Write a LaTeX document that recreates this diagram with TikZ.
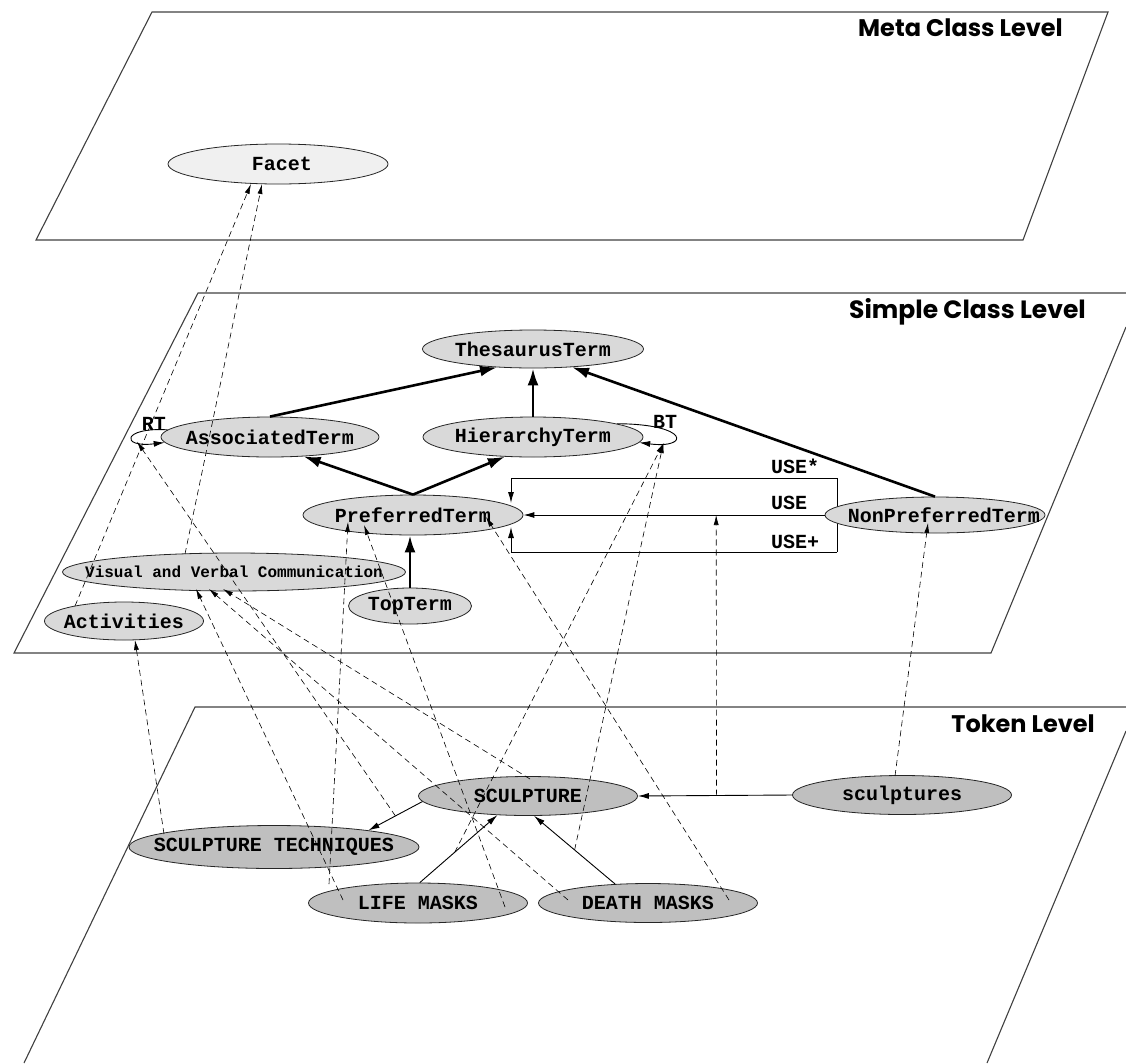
\documentclass[tikz,border=0pt]{standalone}
\usepackage{fontspec}
\newfontfamily\monob{Liberation Mono}
\newfontfamily\lvlfont{Poppins}
\usetikzlibrary{shapes.geometric,arrows.meta,calc}
\pgfdeclarelayer{bg}
\pgfsetlayers{bg,main}
\begin{document}
\begin{tikzpicture}[x=1pt,y=-1pt,
  every label/.style={font=\monob\bfseries\fontsize{20}{20}\selectfont, inner sep=0pt},
  ell/.style={ellipse, draw=black!85, line width=0.8pt, inner sep=0pt},
  cls/.style={ell, fill=black!15},
  metacls/.style={ell, fill=black!6},
  tok/.style={ell, fill=black!25},
  thickarr/.style={line width=2.6pt, -{Latex[length=17pt,width=11pt]}},
  thinarr/.style={line width=0.9pt, -{Latex[length=11pt,width=6pt]}},
  inst/.style={line width=0.6pt, dash pattern=on 6pt off 4pt, -{Latex[length=10pt,width=5pt]}},
  plane/.style={line width=1.1pt, draw=black!75},
  lvl/.style={font=\lvlfont\bfseries\fontsize{24}{24}\selectfont, anchor=east, inner sep=0pt},
  rel/.style={font=\monob\bfseries\fontsize{20}{20}\selectfont, inner sep=0pt}
]
\useasboundingbox (0,0) rectangle (1126,1063);

% USE box corners
\coordinate (boxTR) at (837,478);
\coordinate (boxBR) at (837,552);
\coordinate (boxTL) at (511,478);
\coordinate (boxBL) at (511,552);

% ---------- nodes ----------
\node[metacls, minimum width=220pt, minimum height=40pt, label={[xshift=4pt]center:Facet}] (facet) at (278,164) {};

\node[cls, minimum width=221pt, minimum height=38pt, label=center:ThesaurusTerm] (tt) at (533,349) {};
\node[cls, minimum width=218pt, minimum height=40pt, label=center:AssociatedTerm] (at) at (270,437) {};
\node[cls, minimum width=220pt, minimum height=40pt, label=center:HierarchyTerm] (ht) at (533,437) {};
\node[cls, minimum width=220pt, minimum height=40pt, label=center:PreferredTerm] (pt) at (413,515) {};
\node[cls, minimum width=220pt, minimum height=36pt, label={[xshift=9pt]center:NonPreferredTerm}] (npt) at (935,515) {};
\node[cls, minimum width=343pt, minimum height=38pt, label={[font=\monob\bfseries\fontsize{16}{16}\selectfont]center:Visual and Verbal Communication}] (vvc) at (234,572) {};
\node[cls, minimum width=159pt, minimum height=38pt, label=center:Activities] (act) at (124,621) {};
\node[cls, minimum width=123pt, minimum height=36pt, label=center:TopTerm] (top) at (410,606) {};

\node[tok, minimum width=219pt, minimum height=39pt, label=center:SCULPTURE] (sculpture) at (528,796) {};
\node[tok, minimum width=290pt, minimum height=43pt, label=center:SCULPTURE TECHNIQUES] (tech) at (274,847) {};
\node[tok, minimum width=219pt, minimum height=40pt, label=center:LIFE MASKS] (life) at (418,903) {};
\node[tok, minimum width=219pt, minimum height=39pt, label=center:DEATH MASKS] (death) at (648,903) {};
\node[tok, minimum width=219pt, minimum height=39pt, label=center:sculptures] (sculptures) at (902,795) {};

% level titles
\node[lvl] (lmeta) at (1063,28) {Meta Class Level};
\node[lvl, font=\lvlfont\bfseries\fontsize{25}{25}\selectfont] (lsimple) at (1086,312) {Simple Class Level};
\node[lvl] (ltoken) at (1095,724) {Token Level};

% ---------- background: planes and box edge ----------
\begin{pgfonlayer}{bg}
  \draw[plane] (152,12) -- (1108,12) -- (1023,240) -- (36,240) -- cycle;
  \draw[plane] (1126,293) -- (198,293) -- (14,653) -- (991,653) -- (1126,327);
  \draw[plane] (1126,707) -- (195,707) -- (24,1063);
  \draw[plane] (1126,731) -- (987,1063);
  \draw[line width=0.9pt] (boxTR) -- (boxBR);
\end{pgfonlayer}

% ---------- class hierarchy (thick) ----------
\draw[thickarr] (at.north) -- (tt.207);
\draw[thickarr] (ht.north) -- (tt.south);
\draw[thickarr] (npt.north) -- (tt.335);
\draw[thickarr] (pt.north) -- (at.330);
\draw[thickarr] (pt.north) -- (ht.215);
\draw[thickarr] (top.north) -- (top.north |- pt.south);

% ---------- RT and BT self loops ----------
\draw[thinarr] (at.176) .. controls (122,427) and (120,448) .. (at.183) coordinate[pos=0.7] (rtpt);
\node[rel] (rtlab) at (154,424) {RT};
\draw[thinarr] (ht.9) .. controls (690,424) and (690,449) .. (ht.357) coordinate[pos=0.8] (btpt);
\node[rel] (btlab) at (665,422) {BT};

% ---------- USE relations ----------
\draw[thinarr] (boxTR) -- (boxTL) -- ($(pt)+(98,-12)$);
\draw[thinarr] (npt.west) -- (pt.east) coordinate[pos=0.36] (usept);
\draw[thinarr] (boxBR) -- (boxBL) -- ($(pt)+(98,12)$);
\node[rel] (usestar) at (795,466) {USE*};
\node[rel] (useplain) at (789,503) {USE};
\node[rel] (useplus) at (795,542) {USE+};

% ---------- token level links ----------
\draw[thinarr] (sculpture.183) -- (tech.10) coordinate[pos=0.5] (rtlink);
\draw[thinarr] (life.85) -- (sculpture.212) coordinate[pos=0.45] (lifelink);
\draw[thinarr] (death.150) -- (sculpture.287) coordinate[pos=0.5] (deathlink);
\draw[thinarr] (sculptures.west) -- (sculpture.east) coordinate[pos=0.49] (uselink);

% ---------- instance-of (dashed) ----------
\draw[inst] ($(act)+(-49,-15)$) -- ($(facet)+(-27,20)$);
\draw[inst] ($(vvc)+(-49,-18)$) -- ($(facet)+(-16,20)$);
\draw[inst] ($(tech)+(-110,-13)$) -- ($(act)+(11,19)$);
\draw[inst] ($(life)+(-75,-3)$) -- ($(vvc)+(-38,17)$);
\draw[inst] ($(death)+(-80,-3)$) -- ($(vvc)+(-25,17)$);
\draw[inst] ($(sculpture)+(2,-17)$) -- ($(vvc)+(-11,17)$);
\draw[inst] ($(life)+(-89,-19)$) -- ($(pt)+(-65,7)$);
\draw[inst] ($(life)+(87,4)$) -- ($(pt)+(-49,10)$);
\draw[inst] ($(death)+(81,-3)$) -- ($(pt)+(73,2)$);
\draw[inst] (rtlink) -- (rtpt);
\draw[inst] (lifelink) -- (btpt);
\draw[inst] (deathlink) -- (btpt);
\draw[inst] (uselink) -- (usept);
\draw[inst] ($(sculptures)+(-7,-19)$) -- ($(npt)+(-7,8)$);
\end{tikzpicture}
\end{document}
